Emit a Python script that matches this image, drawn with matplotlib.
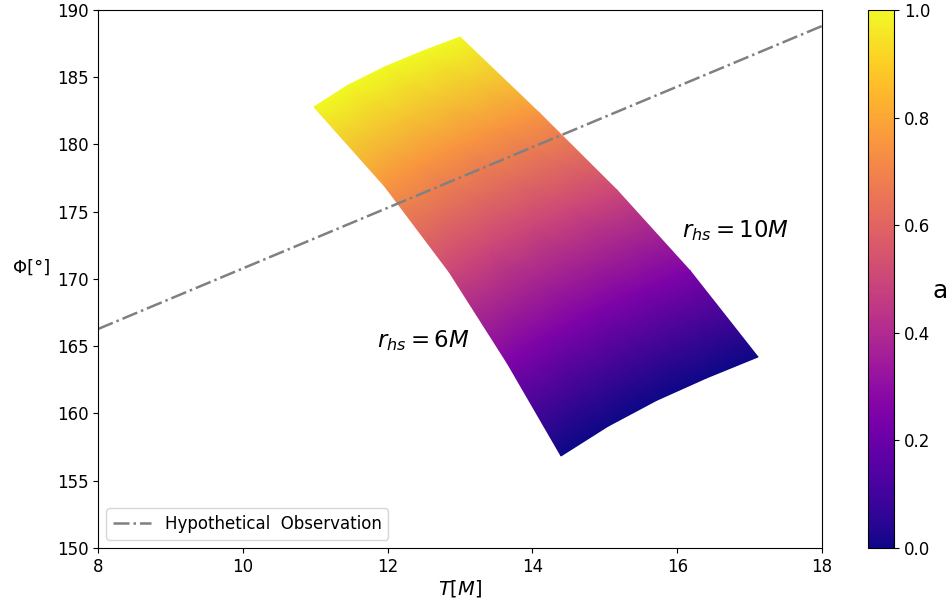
import numpy as np
import matplotlib
matplotlib.use("Agg")
import matplotlib.pyplot as plt

# Parameter grid: hot-spot radius r_hs (columns) and spin a (rows)
r_hs = [6, 7, 8, 9, 10]
a_vals = [0.0, 0.25, 0.5, 0.75, 1.0]

# Period T[M] at each (a, r_hs) grid node (rows: a, cols: r_hs)
T_grid = [
    [14.395, 15.040, 15.713, 16.409, 17.116],
    [13.653, 14.250, 14.878, 15.526, 16.181],
    [12.851, 13.396, 13.975, 14.569, 15.169],
    [11.961, 12.459, 12.997, 13.542, 14.095],
    [10.983, 11.453, 11.964, 12.479, 13.000],
]
# Phase Phi[deg] at each grid node
Phi_grid = [
    [156.84, 159.04, 160.97, 162.65, 164.20],
    [163.73, 165.80, 167.60, 169.15, 170.59],
    [170.51, 172.37, 173.98, 175.34, 176.60],
    [176.88, 178.58, 180.02, 181.24, 182.35],
    [182.79, 184.41, 185.78, 186.93, 187.99],
]

# Hypothetical observation line endpoints
obs_T = [8, 18]
obs_Phi = [166.28, 188.81]

xticks = [8, 10, 12, 14, 16, 18]
yticks = [150, 155, 160, 165, 170, 175, 180, 185, 190]
cticks = [0.0, 0.2, 0.4, 0.6, 0.8, 1.0]

fig = plt.figure(figsize=(9.5, 6.09), dpi=100)
ax = fig.add_axes([0.1032, 0.1002, 0.7621, 0.8834])
cax = fig.add_axes([0.9137, 0.1002, 0.0274, 0.8834])

T = np.array(T_grid)
P = np.array(Phi_grid)
C = np.repeat(np.array(a_vals)[:, None], len(r_hs), axis=1)

mesh = ax.pcolormesh(T, P, C, cmap="plasma", shading="gouraud", vmin=0, vmax=1)

ax.plot(obs_T, obs_Phi, linestyle="-.", color="gray", linewidth=1.8,
        label="Hypothetical  Observation")

ax.text(11.85, 165.4, r"$r_{hs} = 6M$", fontsize=16.5, va="center", ha="left")
ax.text(16.07, 173.6, r"$r_{hs} = 10M$", fontsize=16.5, va="center", ha="left")

ax.set_xlim(8, 18)
ax.set_ylim(150, 190)
ax.set_xticks(xticks)
ax.set_yticks(yticks)
ax.tick_params(labelsize=12)
ax.set_xlabel(r"$T[M]$", fontsize=14, labelpad=2)
ax.set_ylabel("Φ[°]", fontsize=13, rotation=0, ha="center", va="center")
ax.yaxis.set_label_coords(-0.092, 0.52)
ax.legend(loc="lower left", fontsize=12, handlelength=2.3)

cb = fig.colorbar(mesh, cax=cax)
cb.set_ticks(cticks)
cb.ax.tick_params(labelsize=12)
cb.set_label("a", fontsize=18, rotation=0, ha="center", va="center")
cb.ax.yaxis.set_label_coords(2.77, 0.478)

fig.savefig("out.png", dpi=100)
